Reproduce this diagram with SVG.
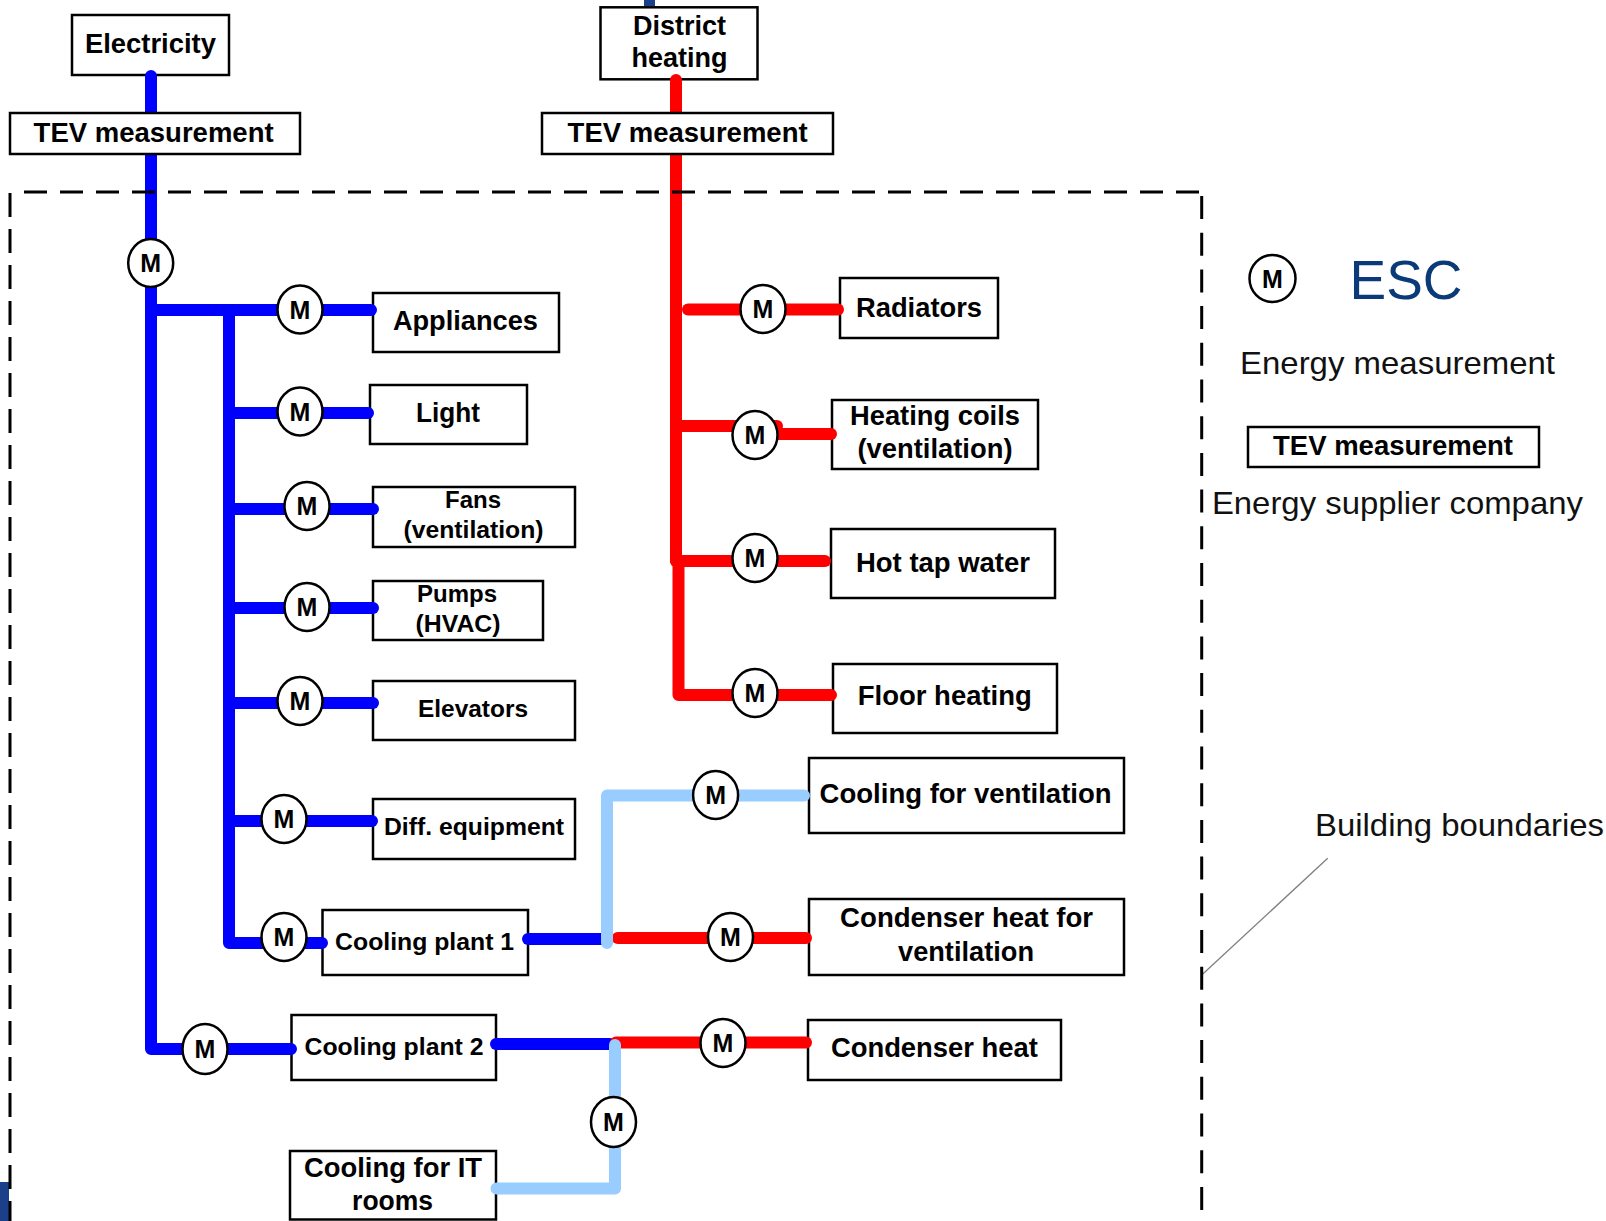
<svg xmlns="http://www.w3.org/2000/svg" width="1606" height="1221" viewBox="0 0 1606 1221">
<style>
.box{fill:#fff;stroke:#000;stroke-width:2.5}
.lbl{font-family:"Liberation Sans",Arial,sans-serif;font-weight:bold;fill:#000;text-anchor:middle;font-size:27px}
.sm{font-size:24.5px}
.reg{font-family:"Liberation Sans",Arial,sans-serif;fill:#111;text-anchor:middle;font-size:32px}
.m ellipse{fill:#fff;stroke:#000;stroke-width:2.5}
.m text{font-family:"Liberation Sans",Arial,sans-serif;font-weight:bold;font-size:25px;text-anchor:middle;fill:#000}
.ln{fill:none;stroke-width:12;stroke-linecap:round;stroke-linejoin:round}
.elec{stroke:#0000ff}
.heat{stroke:#ff0000}
.cool{stroke:#99ccff}
.bnd{fill:none;stroke:#000;stroke-width:3}
</style>
<rect x="644" y="0" width="11" height="6" fill="#1c3f8a"/>
<rect x="0" y="1182" width="9" height="39" fill="#1c3f8a"/>

<g id="electricity"><rect class="box" x="72" y="15" width="157" height="60"/><text class="lbl" x="150.4" y="53" textLength="131" lengthAdjust="spacingAndGlyphs">Electricity</text></g>
<g id="district-heating"><rect class="box" x="600.5" y="7.3" width="157" height="72"/><text class="lbl" x="679.5" y="35" textLength="93" lengthAdjust="spacingAndGlyphs">District</text><text class="lbl" x="679.4" y="67" textLength="96" lengthAdjust="spacingAndGlyphs">heating</text></g>
<g id="appliances"><rect class="box" x="373" y="293" width="186" height="59"/><text class="lbl" x="465.4" y="330" textLength="145" lengthAdjust="spacingAndGlyphs">Appliances</text></g>
<g id="light"><rect class="box" x="370" y="385" width="157" height="59"/><text class="lbl" x="448" y="422" textLength="64" lengthAdjust="spacingAndGlyphs">Light</text></g>
<g id="fans"><rect class="box" x="373" y="487" width="202" height="60"/><text class="lbl sm" x="473" y="508" textLength="56" lengthAdjust="spacingAndGlyphs">Fans</text><text class="lbl sm" x="473.5" y="537.5" textLength="140" lengthAdjust="spacingAndGlyphs">(ventilation)</text></g>
<g id="pumps"><rect class="box" x="373" y="581" width="170" height="59"/><text class="lbl sm" x="457" y="602" textLength="80" lengthAdjust="spacingAndGlyphs">Pumps</text><text class="lbl sm" x="458" y="631.5" textLength="85" lengthAdjust="spacingAndGlyphs">(HVAC)</text></g>
<g id="elevators"><rect class="box" x="373" y="681" width="202" height="59"/><text class="lbl sm" x="473" y="717" textLength="110" lengthAdjust="spacingAndGlyphs">Elevators</text></g>
<g id="diff-equipment"><rect class="box" x="373" y="799" width="202" height="60"/><text class="lbl sm" x="474" y="835" textLength="180" lengthAdjust="spacingAndGlyphs">Diff. equipment</text></g>
<g id="cooling-plant-1"><rect class="box" x="322.5" y="910" width="205.5" height="65"/><text class="lbl sm" x="424.6" y="950" textLength="179" lengthAdjust="spacingAndGlyphs">Cooling plant 1</text></g>
<g id="cooling-plant-2"><rect class="box" x="291.5" y="1015" width="204.5" height="65"/><text class="lbl sm" x="394" y="1055" textLength="179" lengthAdjust="spacingAndGlyphs">Cooling plant 2</text></g>
<g id="cooling-it"><rect class="box" x="290" y="1151" width="206" height="68.5"/><text class="lbl" x="393" y="1177" textLength="178" lengthAdjust="spacingAndGlyphs">Cooling for IT</text><text class="lbl" x="392.6" y="1210" textLength="81" lengthAdjust="spacingAndGlyphs">rooms</text></g>
<g id="radiators"><rect class="box" x="840" y="278" width="158" height="60"/><text class="lbl" x="919" y="317" textLength="126" lengthAdjust="spacingAndGlyphs">Radiators</text></g>
<g id="heating-coils"><rect class="box" x="832" y="400" width="206" height="69"/><text class="lbl" x="935" y="425" textLength="170" lengthAdjust="spacingAndGlyphs">Heating coils</text><text class="lbl" x="935" y="458" textLength="155" lengthAdjust="spacingAndGlyphs">(ventilation)</text></g>
<g id="hot-tap-water"><rect class="box" x="831" y="529" width="224" height="69"/><text class="lbl" x="943" y="572" textLength="174" lengthAdjust="spacingAndGlyphs">Hot tap water</text></g>
<g id="floor-heating"><rect class="box" x="833" y="664" width="224" height="69"/><text class="lbl" x="944.8" y="705" textLength="174" lengthAdjust="spacingAndGlyphs">Floor heating</text></g>
<g id="cooling-ventilation"><rect class="box" x="809" y="758" width="315" height="75"/><text class="lbl" x="965.6" y="803" textLength="292" lengthAdjust="spacingAndGlyphs">Cooling for ventilation</text></g>
<g id="condenser-ventilation"><rect class="box" x="809" y="899" width="315" height="76"/><text class="lbl" x="966.6" y="927" textLength="253" lengthAdjust="spacingAndGlyphs">Condenser heat for</text><text class="lbl" x="966" y="961" textLength="136" lengthAdjust="spacingAndGlyphs">ventilation</text></g>
<g id="condenser-heat"><rect class="box" x="808" y="1020" width="253" height="60"/><text class="lbl" x="934.4" y="1057" textLength="207" lengthAdjust="spacingAndGlyphs">Condenser heat</text></g>

<g id="connectors">
<path class="ln elec" d="M151,76 V1049 H291"/>
<path class="ln elec" d="M151,310 H371"/>
<path class="ln elec" d="M229,310 V943 H322"/>
<path class="ln elec" d="M229,413 H368"/>
<path class="ln elec" d="M229,509 H373"/>
<path class="ln elec" d="M229,608 H373"/>
<path class="ln elec" d="M229,703 H373"/>
<path class="ln elec" d="M229,821 H372"/>
<path class="ln elec" d="M528,939 H606"/>
<path class="ln elec" d="M496,1044 H610"/>
<path class="ln heat" d="M676,80 V561"/>
<path class="ln heat" d="M678.5,561 V695 H831"/>
<path class="ln heat" d="M688,309.5 H838"/>
<path class="ln heat" d="M676,426 H777"/>
<path class="ln heat" d="M760,434 H831"/>
<path class="ln heat" d="M676,561 H825"/>
<path class="ln heat" d="M617.7,938 H806"/>
<path class="ln heat" d="M616,1042.5 H806"/>
<path class="ln cool" d="M607,943 V795.5 H804"/>
<path class="ln cool" d="M615,1045 V1188.6 H496.5"/>
<line x1="1201.7" y1="975" x2="1327.7" y2="858.3" stroke="#808080" stroke-width="1.3"/>
</g>

<g id="building-boundary">
<path class="bnd" d="M24,192 H1199" stroke-dasharray="23 13"/>
<path class="bnd" d="M10,193 V1221" stroke-dasharray="24 12"/>
<path class="bnd" d="M1201.7,196 V1221" stroke-dasharray="23 13.7"/>
</g>

<g id="tev-electricity"><rect class="box" x="10" y="113" width="290" height="41"/><text class="lbl" x="153.6" y="141.7" textLength="240" lengthAdjust="spacingAndGlyphs">TEV measurement</text></g>
<g id="tev-heating"><rect class="box" x="542" y="113" width="291" height="41"/><text class="lbl" x="687.6" y="141.7" textLength="240" lengthAdjust="spacingAndGlyphs">TEV measurement</text></g>

<g id="m-main" class="m"><ellipse cx="150.7" cy="263" rx="22.5" ry="24"/><text x="150.7" y="272">M</text></g>
<g id="m-appliances" class="m"><ellipse cx="300" cy="309.5" rx="22.5" ry="24"/><text x="300" y="318.5">M</text></g>
<g id="m-light" class="m"><ellipse cx="300" cy="411.5" rx="22.5" ry="24"/><text x="300" y="420.5">M</text></g>
<g id="m-fans" class="m"><ellipse cx="307" cy="506" rx="22.5" ry="24"/><text x="307" y="515">M</text></g>
<g id="m-pumps" class="m"><ellipse cx="307" cy="607" rx="22.5" ry="24"/><text x="307" y="616">M</text></g>
<g id="m-elevators" class="m"><ellipse cx="300" cy="701" rx="22.5" ry="24"/><text x="300" y="710">M</text></g>
<g id="m-diff" class="m"><ellipse cx="284" cy="819" rx="22.5" ry="24"/><text x="284" y="828">M</text></g>
<g id="m-cp1" class="m"><ellipse cx="284" cy="937" rx="22.5" ry="24"/><text x="284" y="946">M</text></g>
<g id="m-cp2" class="m"><ellipse cx="205" cy="1049" rx="22.5" ry="25"/><text x="205" y="1058">M</text></g>
<g id="m-radiators" class="m"><ellipse cx="763" cy="309" rx="22.5" ry="24"/><text x="763" y="318">M</text></g>
<g id="m-heating-coils" class="m"><ellipse cx="755" cy="435" rx="22.5" ry="24"/><text x="755" y="444">M</text></g>
<g id="m-hot-tap" class="m"><ellipse cx="755" cy="558" rx="22.5" ry="24"/><text x="755" y="567">M</text></g>
<g id="m-floor" class="m"><ellipse cx="755" cy="693" rx="22.5" ry="24"/><text x="755" y="702">M</text></g>
<g id="m-cool-vent" class="m"><ellipse cx="715.6" cy="795" rx="22.5" ry="24"/><text x="715.6" y="804">M</text></g>
<g id="m-cond-vent" class="m"><ellipse cx="730.5" cy="937" rx="22.5" ry="24"/><text x="730.5" y="946">M</text></g>
<g id="m-cond-heat" class="m"><ellipse cx="723" cy="1043" rx="22.5" ry="24"/><text x="723" y="1052">M</text></g>
<g id="m-it" class="m"><ellipse cx="613.5" cy="1122" rx="22.5" ry="25"/><text x="613.5" y="1131">M</text></g>

<g id="legend">
<g class="m"><ellipse cx="1272.5" cy="278.5" rx="23" ry="23.5"/><text x="1272.5" y="287.5">M</text></g>
<text x="1406" y="299" font-family="Liberation Sans, Arial, sans-serif" font-size="55" fill="#0a3b78" text-anchor="middle" textLength="113" lengthAdjust="spacingAndGlyphs">ESC</text>
<text class="reg" x="1397.5" y="374" textLength="315" lengthAdjust="spacingAndGlyphs">Energy measurement</text>
<rect class="box" x="1248" y="427" width="291" height="40"/>
<text class="lbl" x="1393" y="455" textLength="240" lengthAdjust="spacingAndGlyphs">TEV measurement</text>
<text class="reg" x="1397.4" y="514" textLength="371" lengthAdjust="spacingAndGlyphs">Energy supplier company</text>
<text class="reg" x="1459.5" y="836" textLength="289" lengthAdjust="spacingAndGlyphs">Building boundaries</text>
</g>
</svg>
